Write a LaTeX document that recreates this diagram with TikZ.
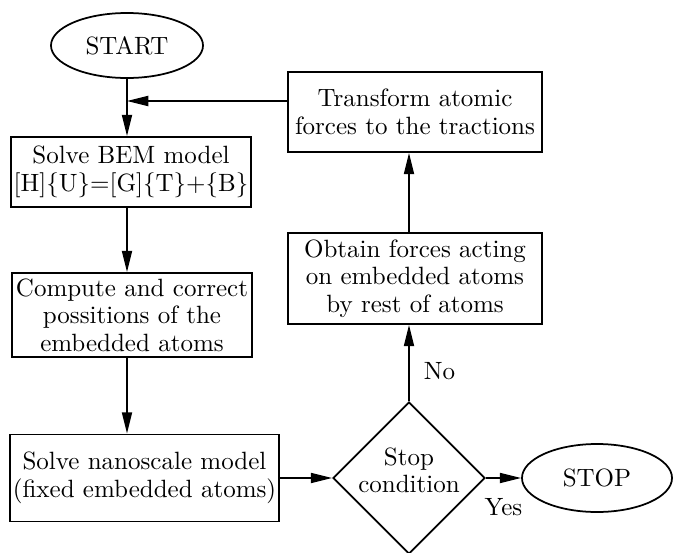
\documentclass[tikz,border=0pt]{standalone}
\usepackage{tikz}
\usetikzlibrary{arrows.meta,positioning,shapes.geometric}

\begin{document}
\begin{tikzpicture}[
  x=0.4pt, y=-0.4pt,
  box/.style={draw, line width=0.7pt, align=center, inner sep=1pt,
    font=\fontsize{10}{11}\selectfont},
  term/.style={draw, ellipse, line width=0.7pt, inner sep=0pt},
  cond/.style={draw, diamond, line width=0.7pt, inner sep=-1.5pt, align=center,
    minimum width=60.8pt, minimum height=60.8pt, text depth=6.4pt,
    font=\fontsize{10}{11}\selectfont},
  arrow/.style={-{Triangle[length=8.5pt, width=4pt]}, line width=0.7pt},
  lbl/.style={inner sep=0pt}
]
\useasboundingbox (0,0) rectangle (673,553);

\node[term, minimum width=60.8pt, minimum height=26pt] (start) at (127,45.5) {START};
\node[box, minimum width=95.2pt, minimum height=28pt] (bem) at (131,172)
  {Solve BEM model\\{[H]\{U\}=[G]\{T\}+\{B\}}};
\node[box, minimum width=96pt, minimum height=33.6pt] (compute) at (132,315)
  {Compute and correct\\possitions of the\\embedded atoms};
\node[box, minimum width=106pt, minimum height=34.8pt] (nano) at (144.5,478)
  {Solve nanoscale model\\(fixed embedded atoms)};
\node[cond] (stopcond) at (409,478) {Stop\\condition};
\node[term, minimum width=60pt, minimum height=27.2pt] (stop) at (597,478) {STOP};
\node[box, minimum width=101.6pt, minimum height=36.4pt] (obtain) at (415,278.5)
  {Obtain forces acting\\on embedded atoms\\by rest of atoms};
\node[box, minimum width=101.6pt, minimum height=32pt] (transform) at (415,112)
  {Transform atomic\\forces to the tractions};
\coordinate (merge) at (127,101);

\draw[arrow] (start) -- (start |- bem.north);
\draw[arrow] (start |- bem.south) -- (start |- compute.north);
\draw[arrow] (start |- compute.south) -- (start |- nano.north);
\draw[arrow] (nano) -- (stopcond);
\draw[arrow] (stopcond) -- (stop) node[lbl, midway, below=8pt] {Yes};
\draw[arrow] (stopcond) -- (stopcond |- obtain.south) node[lbl, pos=0.4, right=5.6pt] {No};
\draw[arrow] (stopcond |- obtain.north) -- (stopcond |- transform.south);
\draw[arrow] (transform.west |- merge) -- (merge);
\end{tikzpicture}
\end{document}
